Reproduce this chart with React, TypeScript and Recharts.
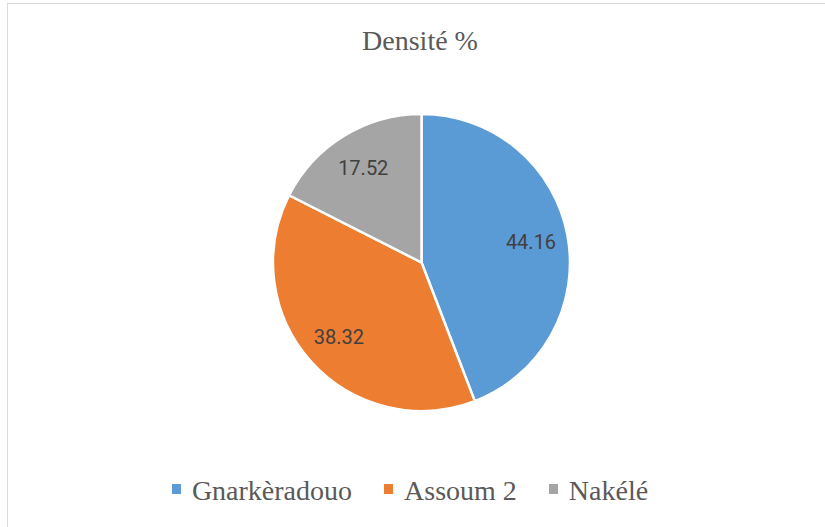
import React from "react";
import { PieChart, Pie, Cell } from "recharts";

const sites = ["Gnarkèradouo", "Assoum 2", "Nakélé"];
const densite = [44.16, 38.32, 17.52];
const sliceColors = ["#5B9BD5", "#ED7D31", "#A5A5A5"];

const data = sites.map((name, i) => ({ name, value: densite[i] }));

const RAD = Math.PI / 180;
const serif = "'Liberation Serif', 'Times New Roman', serif";

// value labels sit inside the slices, about 3/4 of the way out
function renderLabel(props: any) {
  const { cx, cy, midAngle, outerRadius, value } = props;
  const r = outerRadius * 0.75;
  const x = cx + r * Math.cos(-midAngle * RAD);
  const y = cy + r * Math.sin(-midAngle * RAD);
  return (
    <text
      x={x}
      y={y}
      fill="#404040"
      textAnchor="middle"
      dominantBaseline="central"
      style={{ fontFamily: "Roboto, sans-serif", fontSize: 20 }}
    >
      {value.toFixed(2)}
    </text>
  );
}

export default function App() {
  return (
    <div style={{ position: "absolute", left: 0, top: 0, width: 825, height: 527, overflow: "hidden", background: "#fff" }}>
      <div
        style={{
          position: "absolute",
          left: 7,
          top: 3,
          width: 840,
          height: 560,
          border: "1px solid #d9d9d9",
          boxSizing: "border-box",
        }}
      />
      <div
        style={{
          position: "absolute",
          left: 0,
          top: 27,
          width: 840,
          textAlign: "center",
          fontFamily: serif,
          fontSize: 28,
          lineHeight: "28px",
          color: "#595959",
        }}
      >
        Densité %
      </div>
      <div style={{ position: "absolute", left: 0, top: 0 }}>
        <PieChart width={825} height={527} margin={{ top: 0, right: 0, bottom: 0, left: 0 }}>
          <Pie
            data={data}
            dataKey="value"
            nameKey="name"
            cx={421.5}
            cy={262.5}
            outerRadius={148.5}
            startAngle={90}
            endAngle={-270}
            stroke="#fff"
            strokeWidth={2.5}
            label={renderLabel}
            labelLine={false}
            isAnimationActive={false}
          >
            {data.map((d, i) => (
              <Cell key={d.name} fill={sliceColors[i]} />
            ))}
          </Pie>
        </PieChart>
      </div>
      <div
        style={{
          position: "absolute",
          left: 0,
          top: 477,
          width: 820,
          display: "flex",
          justifyContent: "center",
          alignItems: "center",
        }}
      >
        {sites.map((name, i) => (
          <div key={name} style={{ display: "flex", alignItems: "center", marginLeft: i === 0 ? 0 : 32 }}>
            <span
              style={{
                width: 9,
                height: 10,
                background: sliceColors[i],
                display: "inline-block",
                marginRight: 11,
                position: "relative",
                top: -2,
              }}
            />
            <span style={{ fontFamily: serif, fontSize: 28, lineHeight: "28px", color: "#595959" }}>{name}</span>
          </div>
        ))}
      </div>
    </div>
  );
}
